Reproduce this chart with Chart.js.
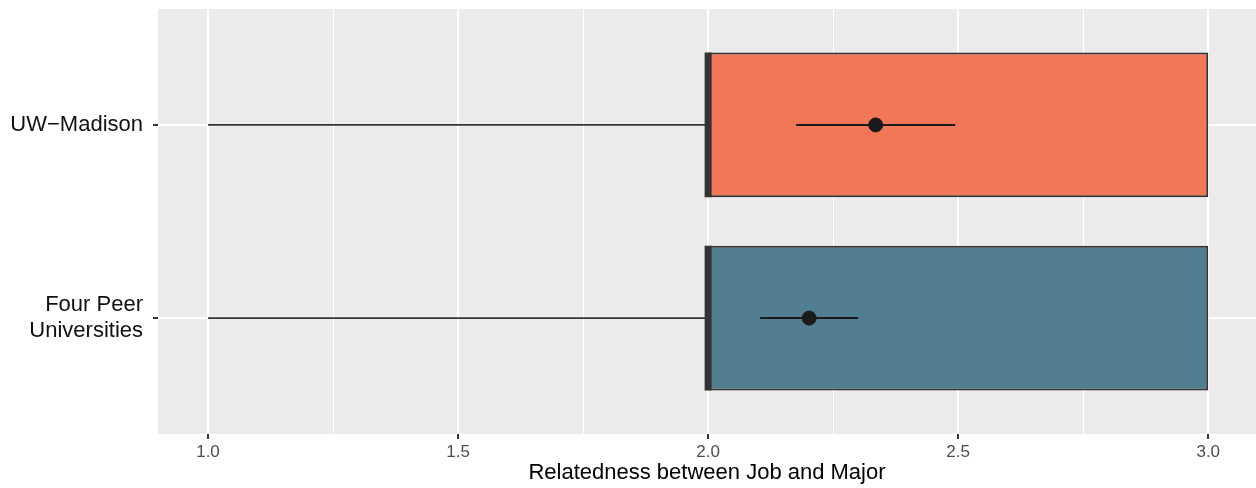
<!DOCTYPE html>
<html>
<head>
<meta charset="utf-8">
<script src="https://cdn.jsdelivr.net/npm/chart.js@4/dist/chart.umd.min.js"></script>
<style>
  html, body { margin: 0; padding: 0; background: #fff; overflow: hidden; }
  canvas { display: block; }
</style>
</head>
<body>
<canvas id="relatednessChart" width="1256" height="488"></canvas>
<script>
// Box plot summary per school group (1 = top row)
const groups = ['UW\u2212Madison', 'Four Peer\nUniversities'];
const whiskerLow = [1.0, 1.0];
const q1 = [2.0, 2.0];
const median = [2.0, 2.0];
const q3 = [3.0, 3.0];
const whiskerHigh = [3.0, 3.0];
// Mean with its interval
const means = [2.335, 2.202];
const ciLow = [2.176, 2.104];
const ciHigh = [2.494, 2.300];

const boxColors = ['#F27756', '#517E90'];
const xMajorTicks = [1.0, 1.5, 2.0, 2.5, 3.0];
const xGridTicks = [1.0, 1.25, 1.5, 1.75, 2.0, 2.25, 2.5, 2.75, 3.0];
const boxWidth = 0.75;

const isMajor = (v) => xMajorTicks.some((m) => Math.abs(m - v) < 1e-9);
const tickIsMajor = (ctx) => ctx.tick ? isMajor(ctx.tick.value) : true;

// grey panel behind the plot
const panelBackground = {
    id: 'panelBackground',
    beforeDraw(chart) {
        const {ctx, chartArea} = chart;
        ctx.save();
        ctx.fillStyle = '#EBEBEB';
        ctx.fillRect(chartArea.left, chartArea.top, chartArea.right - chartArea.left, chartArea.bottom - chartArea.top);
        ctx.restore();
    }
};

function buildDatasets() {
    const datasets = [];

    datasets.push({
        type: 'bar',
        indexAxis: 'y',
        data: groups.map((g, i) => ({y: i + 1, x: [q1[i], q3[i]]})),
        backgroundColor: boxColors,
        borderColor: '#333333',
        borderWidth: 2,
        borderSkipped: false,
        grouped: false,
        categoryPercentage: boxWidth,
        barPercentage: 1,
        order: 5
    });

    groups.forEach((g, i) => {
        const y = i + 1;
        // lower and upper whiskers
        datasets.push({
            type: 'line',
            data: [{x: whiskerLow[i], y: y}, {x: q1[i], y: y}],
            borderColor: '#333333',
            borderWidth: 1.6,
            pointRadius: 0,
            order: 4
        });
        datasets.push({
            type: 'line',
            data: [{x: q3[i], y: y}, {x: whiskerHigh[i], y: y}],
            borderColor: '#333333',
            borderWidth: 1.6,
            pointRadius: 0,
            order: 4
        });
        // median line across the box
        datasets.push({
            type: 'line',
            data: [{x: median[i], y: y - boxWidth / 2}, {x: median[i], y: y + boxWidth / 2}],
            borderColor: '#333333',
            borderWidth: 7,
            borderCapStyle: 'butt',
            pointRadius: 0,
            order: 3
        });
        // interval around the mean
        datasets.push({
            type: 'line',
            data: [{x: ciLow[i], y: y}, {x: ciHigh[i], y: y}],
            borderColor: '#1A1A1A',
            borderWidth: 2,
            pointRadius: 0,
            order: 2
        });
    });

    datasets.push({
        type: 'scatter',
        data: groups.map((g, i) => ({x: means[i], y: i + 1})),
        backgroundColor: '#1A1A1A',
        borderColor: '#1A1A1A',
        pointRadius: 7,
        order: 1
    });

    return datasets;
}

const chartCanvas = document.getElementById('relatednessChart').getContext('2d');
new Chart(chartCanvas, {
    type: 'bar',
    data: { datasets: buildDatasets() },
    plugins: [panelBackground],
    options: {
        responsive: false,
        animation: false,
        layout: { autoPadding: false, padding: { top: 9, right: 0, left: 0, bottom: 0 } },
        plugins: {
            legend: { display: false },
            tooltip: { enabled: false }
        },
        scales: {
            x: {
                type: 'linear',
                offset: false,
                min: 0.9,
                max: 3.0955,
                afterBuildTicks: (scale) => { scale.ticks = xGridTicks.map((v) => ({value: v})); },
                afterFit: (scale) => {
                    scale.height = 54;
                    scale.paddingLeft = 0;
                    scale.paddingRight = 0;
                },
                border: { display: false },
                grid: {
                    offset: false,
                    color: '#FFFFFF',
                    lineWidth: (ctx) => tickIsMajor(ctx) ? 2 : 1,
                    tickColor: (ctx) => tickIsMajor(ctx) ? '#333333' : 'rgba(0,0,0,0)',
                    tickLength: 5,
                    tickWidth: 2
                },
                ticks: {
                    autoSkip: false,
                    maxRotation: 0,
                    padding: 3,
                    color: '#4D4D4D',
                    font: { family: 'Liberation Sans, Arial, sans-serif', size: 17 },
                    callback: (v) => isMajor(v) ? v.toFixed(1) : ''
                },
                title: {
                    display: true,
                    text: 'Relatedness between Job and Major',
                    color: '#000000',
                    font: { family: 'Liberation Sans, Arial, sans-serif', size: 22 },
                    padding: { top: 0, bottom: 2 }
                }
            },
            y: {
                type: 'linear',
                offset: false,
                min: 0.4,
                max: 2.6,
                reverse: true,
                afterBuildTicks: (scale) => { scale.ticks = groups.map((g, i) => ({value: i + 1})); },
                afterFit: (scale) => {
                    scale.width = 158;
                    scale.paddingTop = 0;
                    scale.paddingBottom = 0;
                },
                border: { display: false },
                grid: {
                    offset: false,
                    color: '#FFFFFF',
                    lineWidth: 2,
                    tickColor: '#333333',
                    tickLength: 5,
                    tickWidth: 2
                },
                ticks: {
                    autoSkip: false,
                    padding: 10,
                    color: '#111111',
                    font: { family: 'Liberation Sans, Arial, sans-serif', size: 22 },
                    callback: (v) => {
                        const label = groups[Math.round(v) - 1];
                        return label ? label.split('\n') : '';
                    }
                }
            }
        }
    }
});
</script>
</body>
</html>
